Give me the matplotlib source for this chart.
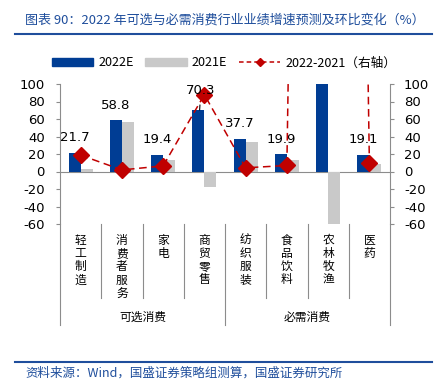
import matplotlib.pyplot as plt
from matplotlib.lines import Line2D
from matplotlib.patches import Patch
import numpy as np

plt.rcParams["font.family"] = ["Noto Sans CJK SC", "DejaVu Sans"]

categories = ["轻工制造", "消费者服务", "家电", "商贸零售",
              "纺织服装", "食品饮料", "农林牧渔", "医药"]
groups = ["可选消费", "必需消费"]
growth_2022 = [21.7, 58.8, 19.4, 70.3, 37.7, 19.9, 3000.0, 19.1]
growth_2021 = [3.0, 57.0, 13.0, -17.5, 33.5, 13.0, -62.0, 9.0]
diff = [18.7, 1.8, 6.4, 87.8, 4.2, 6.9, 3062.0, 10.1]
yticks = [100, 80, 60, 40, 20, 0, -20, -40, -60]

BLUE = "#003d94"
GRAY = "#c9c9c9"
RED = "#c00000"
TXT_BLUE = "#1f4e9c"
SPINE = "#8c8c8c"

W, H = 437, 381
fig = plt.figure(figsize=(W / 100, H / 100), dpi=100)

ax_l, ax_r, ax_t, ax_b = 60, 390, 84, 224
ax = fig.add_axes([ax_l / W, 1 - ax_b / H, (ax_r - ax_l) / W, (ax_b - ax_t) / H])
ax2 = ax.twinx()

x = np.arange(len(categories))
bw = 0.29
ax.bar(x - bw / 2, growth_2022, bw, color=BLUE, zorder=2)
ax.bar(x + bw / 2, growth_2021, bw, color=GRAY, zorder=2)
ax.axhline(0, color=SPINE, lw=0.8, zorder=1)

ax2.plot(x, diff, color=RED, ls=(0, (5, 3)), lw=1.1, marker="D",
         ms=8.5, mfc=RED, mec=RED, zorder=3)

for ax_ in (ax, ax2):
    ax_.set_xlim(-0.5, len(categories) - 0.5)
    ax_.set_ylim(-60, 100)
    ax_.set_yticks(yticks)
    ax_.tick_params(axis="y", labelsize=9.5, length=3, color=SPINE)
    for s in ax_.spines.values():
        s.set_visible(False)
ax.tick_params(axis="y", pad=8)
ax2.tick_params(axis="y", pad=7)
ax.spines["left"].set_visible(True)
ax.spines["left"].set_color(SPINE)
ax2.spines["right"].set_visible(True)
ax2.spines["right"].set_color(SPINE)
ax.set_xticks([])
ax.set_yticklabels([str(v) for v in yticks], family="DejaVu Sans")
ax2.set_yticklabels([str(v) for v in yticks], family="DejaVu Sans")
ax2.set_zorder(ax.get_zorder() + 1)
ax2.patch.set_visible(False)

# data labels above the 2022E bars
for i, v in enumerate(growth_2022):
    if v > 100:
        continue
    if categories[i] == "商贸零售":
        ax2.annotate(f"{v:.1f}", xy=(i - bw / 2 + 0.03, v), xytext=(i - bw / 2 + 0.06, 93),
                     ha="center", va="center", fontsize=9.5, family="DejaVu Sans",
                     arrowprops=dict(arrowstyle="-", color="black", lw=0.8, shrinkA=4, shrinkB=0),
                     zorder=4)
    else:
        ax.annotate(f"{v:.1f}", xy=(i - bw / 2, v), xytext=(0, 6), textcoords="offset points",
                    ha="center", va="bottom", fontsize=9.5, family="DejaVu Sans")

# category labels, vertical text
tr = ax.get_xaxis_transform()
for i, name in enumerate(categories):
    for k, ch in enumerate(name):
        ax.text(i, -0.115 - k * 0.095, ch, transform=tr, ha="center", va="center",
                fontsize=8.5, clip_on=False)

# separator lines below the axis
for j in range(len(categories) + 1):
    bottom = -0.72 if j in (0, 4, 8) else -0.53
    ax.plot([j - 0.5, j - 0.5], [0, bottom], transform=tr, color=SPINE, lw=0.8, clip_on=False)

for g, name in enumerate(groups):
    ax.text(g * 4 + 1.5, -0.665, name, transform=tr, ha="center", va="center",
            fontsize=8.5, clip_on=False)

# legend
handles = [
    Patch(color=BLUE, label="2022E"),
    Patch(color=GRAY, label="2021E"),
    Line2D([], [], color=RED, ls=(0, (3, 2)), lw=1.1, marker="D", ms=4, label="2022-2021（右轴）"),
]
fig.legend(handles=handles, loc="center", bbox_to_anchor=(224 / W, 1 - 63 / H), ncol=3,
           frameon=False, fontsize=9.1, handlelength=3.3, handleheight=0.5,
           columnspacing=0.9, handletextpad=0.4)

# title and source
fig.text(25 / W, 1 - 20 / H, "图表 90：2022 年可选与必需消费行业业绩增速预测及环比变化（%）",
         ha="left", va="center", fontsize=9.4, color=TXT_BLUE)
fig.add_artist(Line2D([15 / W, 432 / W], [1 - 34 / H, 1 - 34 / H], color=TXT_BLUE, lw=1.5))
fig.add_artist(Line2D([15 / W, 432 / W], [1 - 362 / H, 1 - 362 / H], color=TXT_BLUE, lw=1.5))
fig.text(25 / W, 1 - 373 / H, "资料来源：Wind，国盛证券策略组测算，国盛证券研究所",
         ha="left", va="center", fontsize=9, color=TXT_BLUE)

fig.savefig("out.png", dpi=100)
